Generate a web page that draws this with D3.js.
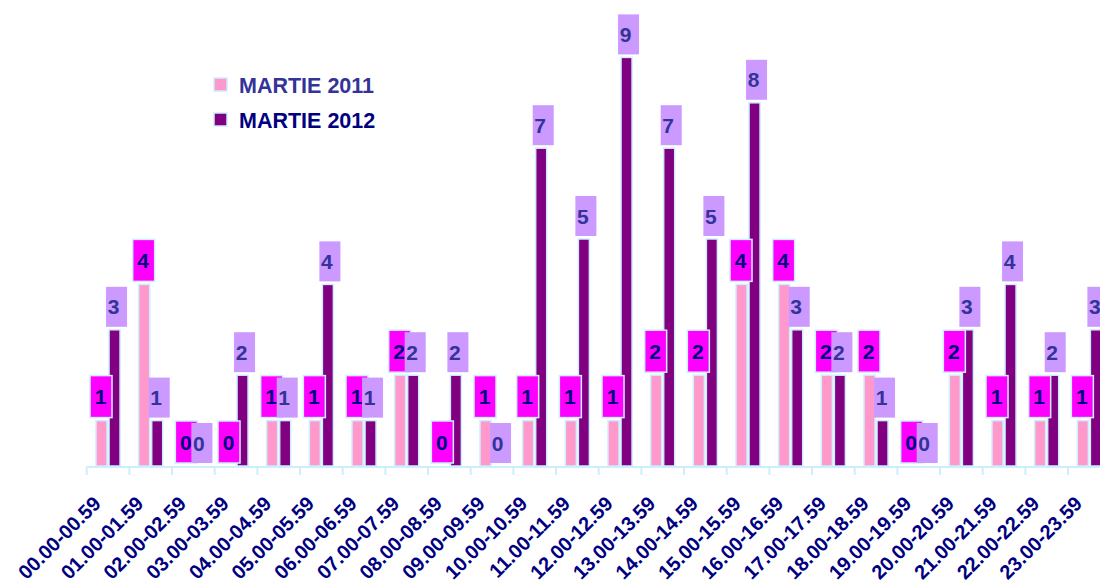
<!DOCTYPE html>
<html>
<head>
<meta charset="utf-8">
<script src="https://cdn.jsdelivr.net/npm/d3@7"></script>
<style>
  body { margin: 0; background: #ffffff; }
  svg { display: block; font-family: "Liberation Sans", Arial, sans-serif; }
</style>
</head>
<body>
<div id="chart"></div>
<script>
// Data:
const hours = ["00.00-00.59", "01.00-01.59", "02.00-02.59", "03.00-03.59", "04.00-04.59",
               "05.00-05.59", "06.00-06.59", "07.00-07.59", "08.00-08.59", "09.00-09.59",
               "10.00-10.59", "11.00-11.59", "12.00-12.59", "13.00-13.59", "14.00-14.59",
               "15.00-15.59", "16.00-16.59", "17.00-17.59", "18.00-18.59", "19.00-19.59",
               "20.00-20.59", "21.00-21.59", "22.00-22.59", "23.00-23.59"];
const martie2011 = [1, 4, 0, 0, 1, 1, 1, 2, 0, 1, 1, 1, 1, 2, 2, 4, 4, 2, 2, 0, 2, 1, 1, 1];
const martie2012 = [3, 1, 0, 2, 1, 4, 1, 2, 2, 0, 7, 5, 9, 7, 5, 8, 3, 2, 1, 0, 3, 4, 2, 3];
const seriesNames = ["MARTIE 2011", "MARTIE 2012"];

// Canvas:
const svgWidth = 1100;
const svgHeight = 584;
const plot = { left: 86.7, right: 1110.7, top: 12, bottom: 466 };

// Styles:
const barColors = ["#ff99cc", "#800080"];
const boxColors = ["#ff00ff", "#cc99ff"];
const boxText = ["#000080", "#333399"];
const edge = "#cceeff";

const svg = d3.select("#chart").append("svg")
    .attr("width", svgWidth)
    .attr("height", svgHeight);

// Scales:
const x = d3.scaleBand()
    .domain(hours)
    .range([plot.left, plot.right]);

const xSub = d3.scaleBand()
    .domain(seriesNames)
    .range([0, x.bandwidth()])
    .paddingInner(0.154)
    .paddingOuter(0.715);

const y = d3.scaleLinear()
    .domain([0, 10])
    .range([plot.bottom, plot.top]);

const rows = hours.map((h, i) => ({ hour: h, values: [martie2011[i], martie2012[i]] }));

// Bars:
const groups = svg.append("g").selectAll("g")
    .data(rows)
    .join("g")
    .attr("transform", d => `translate(${x(d.hour)},0)`);

groups.selectAll("rect")
    .data(d => d.values.map((v, s) => ({ v, s })))
    .join("rect")
    .attr("x", d => xSub(seriesNames[d.s]))
    .attr("y", d => y(d.v))
    .attr("width", xSub.bandwidth())
    .attr("height", d => y(0) - y(d.v))
    .attr("fill", d => barColors[d.s])
    .attr("stroke", edge)
    .attr("stroke-width", 1.5);

// Axis:
const xAxis = svg.append("g")
    .attr("transform", `translate(0,${plot.bottom + 1})`)
    .call(d3.axisBottom(x).tickSize(0).tickPadding(0));

xAxis.select(".domain")
    .attr("stroke", edge)
    .attr("stroke-width", 2)
    .attr("d", `M${plot.left},0H${plot.right}`);

xAxis.selectAll(".tick text")
    .style("font-size", "20px")
    .style("font-weight", "bold")
    .attr("fill", "#000080")
    .attr("text-anchor", "end")
    .attr("y", 0)
    .attr("dy", 0)
    .attr("transform", "translate(-6,38) rotate(-45)");

// Boundary ticks:
xAxis.append("g").selectAll("line")
    .data(hours.concat(["end"]))
    .join("line")
    .attr("x1", d => d === "end" ? plot.right : x(d))
    .attr("x2", d => d === "end" ? plot.right : x(d))
    .attr("y1", 0)
    .attr("y2", 8)
    .attr("stroke", edge)
    .attr("stroke-width", 2);

// Data labels (2011 first, 2012 on top):
const boxW = [22, 21];
const boxH = [42, 40];
const boxShift = [0, 2];

[0, 1].forEach(s => {
    const lab = svg.append("g").selectAll("g")
        .data(rows)
        .join("g")
        .attr("transform", d => {
            const cx = x(d.hour) + xSub(seriesNames[s]) + xSub.bandwidth() / 2;
            const bottom = y(d.values[s]) - 3;
            return `translate(${cx},${bottom})`;
        });

    lab.append("rect")
        .attr("x", -boxW[s] / 2 + boxShift[s] - (s === 0 ? 0.5 : 0))
        .attr("y", -boxH[s])
        .attr("width", boxW[s])
        .attr("height", boxH[s])
        .attr("fill", boxColors[s])
        .attr("stroke", s === 0 ? edge : "none")
        .attr("stroke-width", 1.5);

    lab.append("text")
        .attr("x", -1)
        .attr("y", -boxH[s] / 2 + 7.5)
        .attr("text-anchor", "middle")
        .style("font-size", "21px")
        .style("font-weight", "bold")
        .attr("fill", boxText[s])
        .text(d => d.values[s]);
});

// Legend:
const legend = svg.append("g")
    .attr("transform", "translate(214,78)");

const legendRows = legend.selectAll("g")
    .data(seriesNames)
    .join("g")
    .attr("transform", (d, i) => `translate(0,${i * 35})`);

legendRows.append("rect")
    .attr("width", 13)
    .attr("height", 13)
    .attr("fill", (d, i) => barColors[i])
    .attr("stroke", edge)
    .attr("stroke-width", 1.5);

legendRows.append("text")
    .attr("x", 25)
    .attr("y", 15)
    .style("font-size", "21.5px")
    .style("font-weight", "bold")
    .attr("fill", (d, i) => i === 0 ? "#333399" : "#000080")
    .text(d => d);
</script>
</body>
</html>
